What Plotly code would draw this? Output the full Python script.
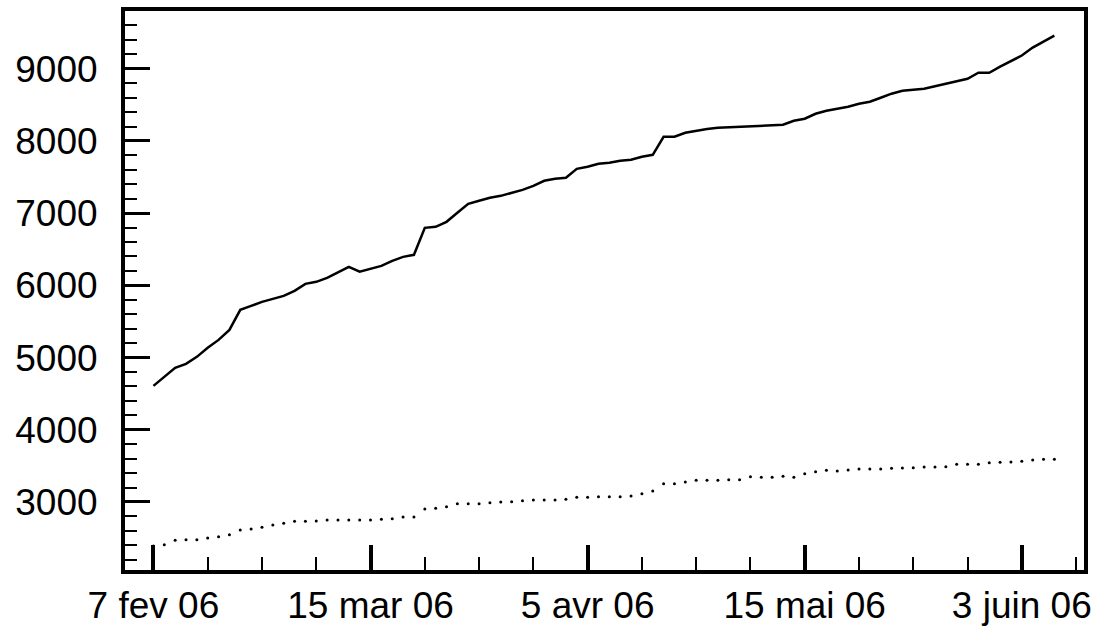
import plotly.graph_objects as go

# x positions are observation indices; labelled dates at selected indices
obs_index = list(range(84))
tick_index = [0, 20, 40, 60, 80]
tick_labels = ["7 fev 06", "15 mar 06", "5 avr 06", "15 mai 06", "3 juin 06"]

total_series = [
    4608, 4733, 4857, 4913, 5010, 5135, 5245, 5384, 5661, 5716,
    5771, 5813, 5855, 5924, 6021, 6049, 6104, 6180, 6257, 6190,
    6229, 6270, 6340, 6395, 6423, 6797, 6811, 6880, 7005, 7130,
    7171, 7213, 7240, 7282, 7323, 7379, 7448, 7476, 7490, 7614,
    7642, 7683, 7697, 7725, 7739, 7781, 7808, 8058, 8058, 8113,
    8141, 8165, 8183, 8190, 8197, 8204, 8211, 8217, 8224, 8280,
    8308, 8377, 8419, 8447, 8475, 8516, 8544, 8599, 8655, 8696,
    8710, 8724, 8758, 8793, 8827, 8862, 8945, 8945, 9029, 9111,
    9183, 9294, 9377, 9460,
]

sub_series = [
    2390, 2408, 2469, 2478, 2478, 2501, 2519, 2547, 2612, 2626,
    2649, 2681, 2705, 2733, 2733, 2737, 2751, 2751, 2751, 2751,
    2751, 2760, 2769, 2792, 2792, 2903, 2913, 2935, 2976, 2976,
    2976, 2990, 3000, 3004, 3018, 3028, 3028, 3028, 3037, 3065,
    3065, 3073, 3073, 3073, 3083, 3115, 3152, 3254, 3254, 3277,
    3301, 3301, 3301, 3309, 3309, 3351, 3342, 3342, 3356, 3342,
    3392, 3420, 3439, 3430, 3443, 3457, 3457, 3457, 3467, 3471,
    3475, 3485, 3485, 3489, 3522, 3522, 3522, 3545, 3550, 3554,
    3564, 3582, 3592, 3592,
]

fig = go.Figure()
fig.add_trace(go.Scatter(
    x=obs_index, y=total_series, mode="lines",
    line=dict(color="black", width=2.5), showlegend=False,
))
fig.add_trace(go.Scatter(
    x=obs_index, y=sub_series, mode="markers",
    marker=dict(color="black", size=3, line=dict(width=0)), showlegend=False,
))

font = dict(family="Liberation Sans, Arial, Helvetica, sans-serif", size=37, color="black")

fig.update_layout(
    width=1097, height=633,
    margin=dict(l=124.5, r=13, t=11, b=63, autoexpand=False),
    paper_bgcolor="white", plot_bgcolor="white",
    font=font,
)
fig.update_xaxes(
    range=[-2.62, 85.73], automargin=False,
    tickmode="array", tickvals=tick_index, ticktext=tick_labels,
    ticks="inside", ticklen=25, tickwidth=4, tickcolor="black",
    minor=dict(dtick=5, tick0=0, ticks="inside", ticklen=13, tickwidth=2, tickcolor="black"),
    showline=True, linecolor="black", linewidth=4, mirror=True,
    showgrid=False, zeroline=False, tickfont=font,
)
fig.update_yaxes(
    range=[2058, 9800], automargin=False,
    tickmode="linear", tick0=0, dtick=1000,
    ticks="inside", ticklen=25, tickwidth=3, tickcolor="black",
    minor=dict(dtick=200, tick0=0, ticks="inside", ticklen=12, tickwidth=2, tickcolor="black"),
    showline=True, linecolor="black", linewidth=4, mirror=True,
    showgrid=False, zeroline=False, tickfont=font, tickformat="d",
    ticklabelstandoff=16,
)

fig.write_html(
    "out.html",
    config={"displayModeBar": False},
    post_script="document.body.style.margin='0';document.body.style.overflow='hidden';",
)
